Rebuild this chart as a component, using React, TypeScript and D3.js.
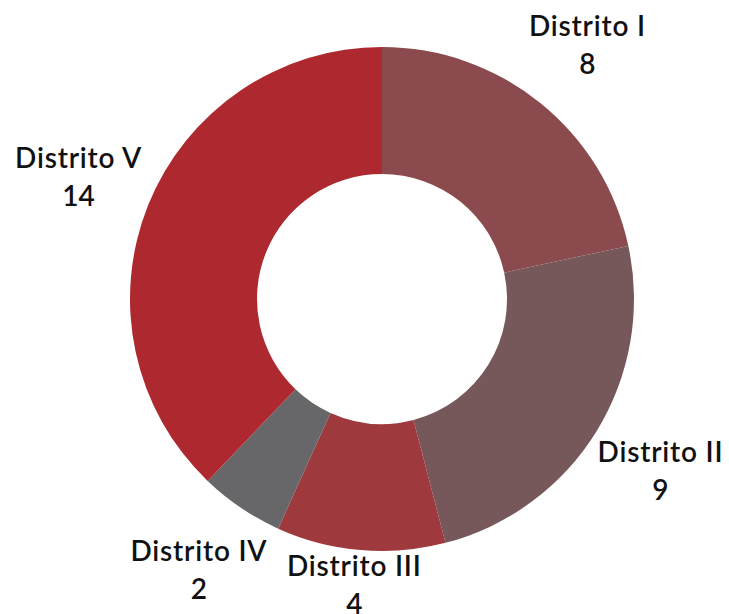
import React from "react";
import * as d3 from "d3";

const categories = ["Distrito I", "Distrito II", "Distrito III", "Distrito IV", "Distrito V"];
const values = [8, 9, 4, 2, 14];
const colors = ["#8B4A4E", "#76585A", "#9E393D", "#67676A", "#AE282F"];

const W = 729, H = 614;
const cx = 382, cy = 299;
const outerR = 252, innerR = 125;
const labelR = 327;
const lineGap = 38;

export default function App() {
  const pie = d3.pie<number>().sort(null).value((d) => d)(values);
  const arc = d3.arc<d3.PieArcDatum<number>>().innerRadius(innerR).outerRadius(outerR);
  return (
    <svg width={W} height={H} style={{ position: "absolute", left: 0, top: 0 }}
      fontFamily="Lato, 'Noto Sans', sans-serif">
      <rect width={W} height={H} fill="#ffffff" />
      <g transform={`translate(${cx},${cy})`}>
        {pie.map((p, i) => (
          <path key={i} d={arc(p) || ""} fill={colors[i]} />
        ))}
        {pie.map((p, i) => {
          const a = (p.startAngle + p.endAngle) / 2;
          const x = labelR * Math.sin(a);
          let y = -labelR * Math.cos(a);
          y = Math.min(y, H - cy - 29);
          return (
            <g key={"l" + i} transform={`translate(${x},${y})`}>
              <text textAnchor="middle" y={-lineGap / 2} dy="0.36em" fontSize={28} fontWeight={600} letterSpacing={0.8} fill="#111">
                {categories[i]}
              </text>
              <text textAnchor="middle" y={lineGap / 2} dy="0.36em" fontSize={28} fontWeight={600} fill="#111">
                {values[i]}
              </text>
            </g>
          );
        })}
      </g>
    </svg>
  );
}
